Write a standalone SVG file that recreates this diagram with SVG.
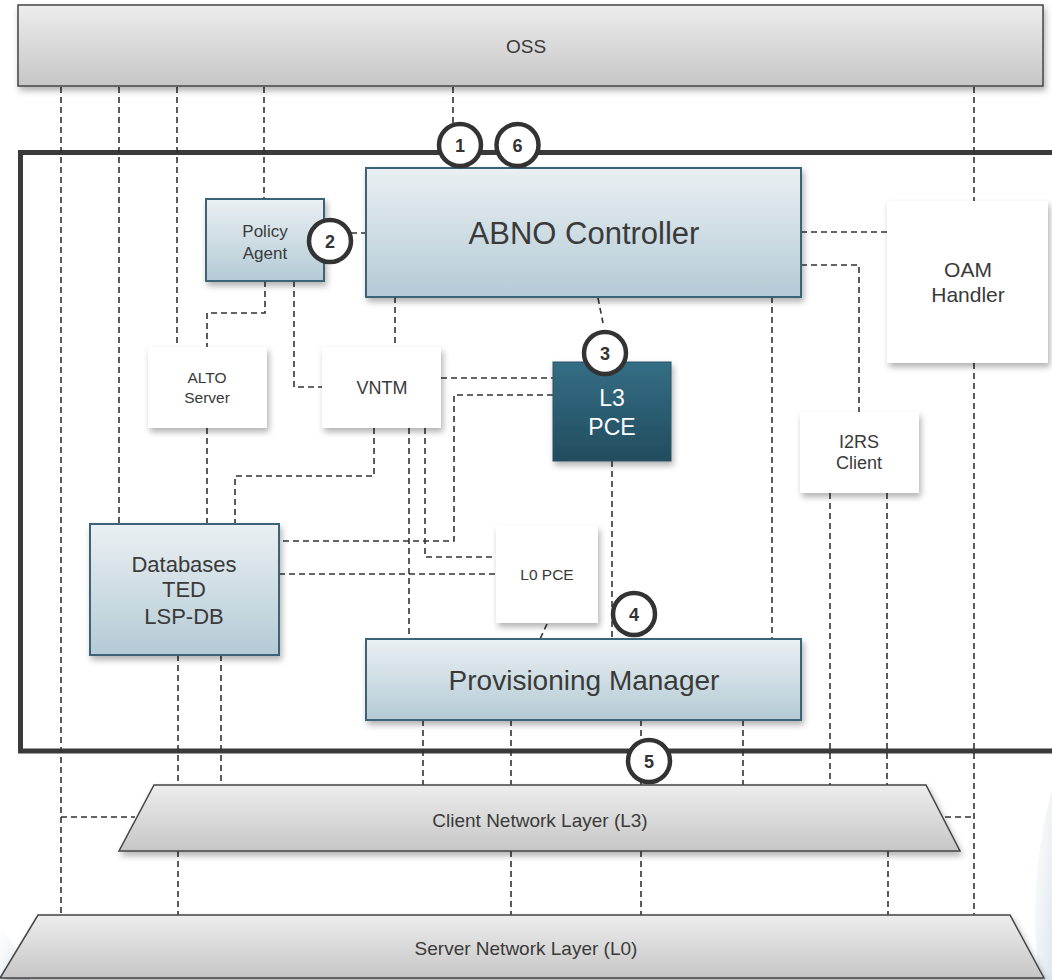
<svg xmlns="http://www.w3.org/2000/svg" width="1052" height="980" viewBox="0 0 1052 980">
<defs>
<linearGradient id="gGray" x1="0" y1="0" x2="0" y2="1"><stop offset="0" stop-color="#ededed"/><stop offset="1" stop-color="#c6c6c6"/></linearGradient>
<linearGradient id="gBlue" x1="0" y1="0" x2="0" y2="1"><stop offset="0" stop-color="#eaf0f3"/><stop offset="1" stop-color="#b4cad5"/></linearGradient>
<linearGradient id="gDark" x1="0" y1="0" x2="0" y2="1"><stop offset="0" stop-color="#346e85"/><stop offset="1" stop-color="#224c5e"/></linearGradient>
<linearGradient id="gWm" x1="0" y1="0" x2="1" y2="1"><stop offset="0" stop-color="#e4ebf2" stop-opacity="0"/><stop offset="1" stop-color="#dde6ee"/></linearGradient>
<filter id="sh" x="-10%" y="-10%" width="130%" height="140%"><feDropShadow dx="2" dy="4" stdDeviation="3" flood-color="#000" flood-opacity="0.3"/></filter>
</defs>
<style>
text{font-family:"Liberation Sans",Arial,sans-serif;fill:#3a3a3a;text-anchor:middle}
.c{fill:none;stroke:#333;stroke-width:1.6;stroke-dasharray:6 4}
.gray{fill:url(#gGray);stroke:#444;stroke-width:1.5;filter:url(#sh)}
.blue{fill:url(#gBlue);stroke:#3d6477;stroke-width:2;filter:url(#sh)}
.dark{fill:url(#gDark);stroke:#2a5566;stroke-width:1;filter:url(#sh)}
.white{fill:#fff;filter:url(#sh)}
.num circle{fill:#fff;stroke:#333;stroke-width:4.5}
.num text{font-weight:bold;font-size:18px;fill:#333}
</style>
<rect width="1052" height="980" fill="#fff"/>
<path d="M1052 790 C1035 850 1030 920 1040 980 H1052 Z" fill="url(#gWm)"/>
<path d="M0 925 C15 945 25 965 30 980 H0 Z" fill="url(#gWm)"/>
<g id="frame"><path d="M1060 152.5 H20.5 V751 H1060" fill="none" stroke="#3a3a3a" stroke-width="5"/></g>
<g id="connectors">
<path class="c" d="M61 87 V915 M119 87 V524 M177 87 V347 M264 87 V199 M453 87 V124 M974 87 V201 M974 363 V915 M61 817 H135 M945 817 H974"/>
<path class="c" d="M265 281 V313 H207 V347 M294 281 V387 H322 M351 233 H366"/>
<path class="c" d="M395 297 V347 M598 298 L603 323 M772 297 V639 M801 232 H887 M801 265 H859 V412"/>
<path class="c" d="M441 378 H553 M553 395 H454 V541 H279 M374 428 V476 H235 V524 M409 428 V639 M425 428 V557 H496"/>
<path class="c" d="M207 428 V524 M279 574 H496 M178 655 V785 M221 655 V785 M612 461 V639 M547 624 L540 639"/>
<path class="c" d="M423 720 V785 M511 720 V785 M641 720 V785 M743 720 V785 M830 493 V785 M887 493 V785"/>
<path class="c" d="M178 851 V915 M511 851 V915 M641 851 V915 M888 851 V915"/>
</g>
<g id="oss"><rect class="gray" x="18" y="5" width="1025" height="81"/><text x="526" y="53" font-size="19">OSS</text></g>
<g id="abno"><rect class="blue" x="366" y="168" width="435" height="129"/><text x="584" y="244" font-size="31">ABNO Controller</text></g>
<g id="policy"><rect class="blue" x="206" y="199" width="118" height="82"/><text x="265" y="237" font-size="17">Policy</text><text x="265" y="259" font-size="17">Agent</text></g>
<g id="oam"><rect class="white" x="887" y="201" width="161" height="162"/><text x="968" y="277" font-size="21">OAM</text><text x="968" y="302" font-size="21">Handler</text></g>
<g id="alto"><rect class="white" x="148" y="347" width="119" height="81"/><text x="207" y="383" font-size="15.5">ALTO</text><text x="207" y="403" font-size="15.5">Server</text></g>
<g id="vntm"><rect class="white" x="322" y="347" width="119" height="81"/><text x="382" y="394" font-size="18">VNTM</text></g>
<g id="l3pce"><rect class="dark" x="553" y="362" width="118" height="99"/><text x="612" y="406" font-size="23" style="fill:#fff">L3</text><text x="612" y="435" font-size="23" style="fill:#fff">PCE</text></g>
<g id="i2rs"><rect class="white" x="800" y="412" width="119" height="81"/><text x="859" y="448" font-size="18">I2RS</text><text x="859" y="469" font-size="18">Client</text></g>
<g id="databases"><rect class="blue" x="90" y="524" width="189" height="131"/><text x="184" y="572" font-size="22">Databases</text><text x="184" y="597" font-size="22">TED</text><text x="184" y="624" font-size="22">LSP-DB</text></g>
<g id="l0pce"><rect class="white" x="496" y="526" width="102" height="97"/><text x="547" y="580" font-size="15.5">L0 PCE</text></g>
<g id="prov"><rect class="blue" x="366" y="639" width="435" height="81"/><text x="584" y="690" font-size="28">Provisioning Manager</text></g>
<g id="client"><path class="gray" d="M154 785 H926 L960 851 H119 Z"/><text x="540" y="827" font-size="19">Client Network Layer (L3)</text></g>
<g id="server"><path class="gray" d="M38 915 H1010 L1044 978 H0 Z"/><text x="526" y="955" font-size="19">Server Network Layer (L0)</text></g>
<g id="badges" class="num">
<g id="n1"><circle cx="460" cy="145" r="21"/><text x="460" y="151.5">1</text></g>
<g id="n6"><circle cx="517.5" cy="145" r="21"/><text x="517.5" y="151.5">6</text></g>
<g id="n2"><circle cx="330" cy="241" r="21"/><text x="330" y="247.5">2</text></g>
<g id="n3"><circle cx="605" cy="353" r="21"/><text x="605" y="359.5">3</text></g>
<g id="n4"><circle cx="634" cy="614" r="21"/><text x="634" y="620.5">4</text></g>
<g id="n5"><circle cx="649" cy="761" r="21"/><text x="649" y="767.5">5</text></g>
</g>
</svg>
